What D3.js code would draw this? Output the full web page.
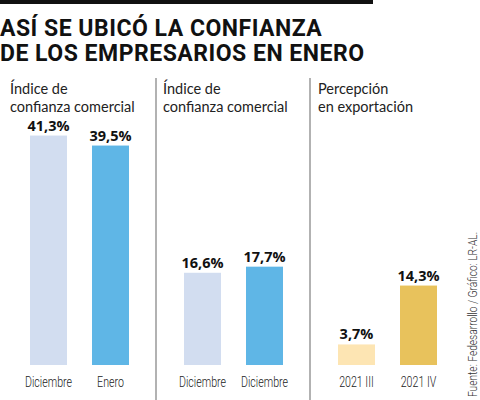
<!DOCTYPE html>
<html>
<head>
<meta charset="utf-8">
<script src="https://cdn.jsdelivr.net/npm/d3@7"></script>
<style>
	body { margin: 0; background: #fff; }
	svg { display: block; }
	.title { font-family: Roboto, sans-serif; font-weight: 700; font-size: 23px; letter-spacing: 0.5px; fill: #111; }
	.ptitle { font-family: Lato, sans-serif; font-size: 14.5px; fill: #222; }
	.value { font-family: "Open Sans", sans-serif; font-weight: 700; font-size: 14.5px; fill: #111; }
	.cat { font-family: Roboto, sans-serif; font-weight: 300; font-size: 14px; fill: #222; }
	.source { font-family: Roboto, sans-serif; font-weight: 300; font-size: 12px; fill: #333; }
</style>
</head>
<body>
<svg width="480" height="400"></svg>
<script>
// panels, left to right
var panelTitles = [
	["Índice de", "confianza comercial"],
	["Índice de", "confianza comercial"],
	["Percepción", "en exportación"]
];
var categories = [
	["Diciembre", "Enero"],
	["Diciembre", "Diciembre"],
	["2021 III", "2021 IV"]
];
var values = [
	[41.3, 39.5],
	[16.6, 17.7],
	[3.7, 14.3]
];
var colors = [
	["#d2ddf0", "#5fb6e6"],
	["#d2ddf0", "#5fb6e6"],
	["#fde5b3", "#e8c25c"]
];

var svg = d3.select("svg");

// top rule + title
svg.append("rect").attr("x", 0).attr("y", 0).attr("width", 373).attr("height", 4).attr("fill", "#111");
svg.append("text").attr("class", "title").attr("x", 0).attr("y", 36).text("ASÍ SE UBICÓ LA CONFIANZA");
svg.append("text").attr("class", "title").attr("x", 0).attr("y", 61).text("DE LOS EMPRESARIOS EN ENERO");

var panelW = 154;
var baseY = 365;
var y = d3.scaleLinear().domain([0, 45]).range([baseY, baseY - 250]);
var x = d3.scaleBand().domain([0, 1]).range([17.5, 141.5]).paddingInner(25 / 62).paddingOuter(12.5 / 62);

values.forEach(function(vals, p) {
	var g = svg.append("g").attr("transform", "translate(" + (p * panelW) + ",0)");

	g.selectAll("text.ptitle").data(panelTitles[p]).enter().append("text").attr("class", "ptitle")
		.attr("x", p == 1 ? 9 : 10)
		.attr("y", function(d, i) { return 94 + i * 17.5; })
		.text(function(d) { return d; });

	g.selectAll("rect.bar").data(vals).enter().append("rect").attr("class", "bar")
		.attr("x", function(d, i) { return x(i); })
		.attr("y", function(d) { return y(d); })
		.attr("width", x.bandwidth())
		.attr("height", function(d) { return baseY - y(d); })
		.attr("fill", function(d, i) { return colors[p][i]; });

	g.selectAll("text.value").data(vals).enter().append("text").attr("class", "value")
		.attr("x", function(d, i) { return x(i) + x.bandwidth() / 2; })
		.attr("y", function(d) { return y(d) - 5; })
		.attr("text-anchor", "middle")
		.text(function(d) { return d3.format(".1f")(d).replace(".", ",") + "%"; });

	// condensed look: squeeze the labels horizontally
	g.selectAll("text.cat").data(categories[p]).enter().append("text").attr("class", "cat")
		.attr("transform", function(d, i) { return "translate(" + (x(i) + x.bandwidth() / 2) + ",387) scale(0.76,1)"; })
		.attr("text-anchor", "middle")
		.text(function(d) { return d; });

	if (p > 0) {
		g.append("line").attr("x1", 2).attr("x2", 2).attr("y1", 78).attr("y2", 400)
			.attr("stroke", "#999").attr("stroke-width", 1.5);
	}
});

svg.append("text").attr("class", "source")
	.attr("transform", "translate(477,397) rotate(-90) scale(0.85,1)")
	.text("Fuente: Fedesarrollo / Gráfico: LR-AL.");
</script>
</body>
</html>
